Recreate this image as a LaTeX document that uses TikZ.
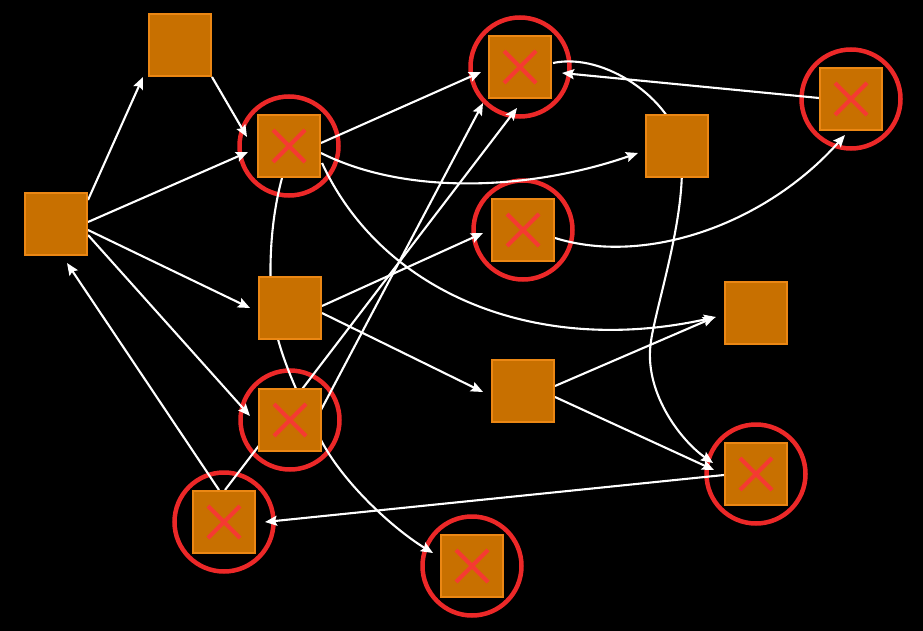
\documentclass[tikz,border=0pt]{standalone}
\usetikzlibrary{arrows.meta,calc}
\definecolor{sqfill}{RGB}{200,112,0}
\definecolor{sqedge}{RGB}{235,135,20}
\definecolor{ringred}{RGB}{236,40,40}
\definecolor{crossred}{RGB}{245,58,50}
\pgfdeclarelayer{back}
\pgfdeclarelayer{mid}
\pgfsetlayers{back,mid,main}
\begin{document}
\begin{tikzpicture}[x=1pt,y=-1pt,
  sq/.style={draw=sqedge, fill=sqfill, line width=1.3pt, minimum size=62pt, inner sep=0pt, outer sep=0pt},
  edge/.style={draw=white, line width=2.1pt, -{Stealth[length=12pt,width=10pt,inset=2pt]}},
  ring/.style={draw=ringred, line width=4.5pt},
  xmk/.style={draw=crossred, line width=4pt}]
% nodes
\node[sq] (A) at (56,224) {};
\node[sq] (B) at (180,45) {};
\node[sq] (C) at (289,146) {};
\node[sq] (D) at (290,308) {};
\node[sq] (E) at (290,420) {};
\node[sq] (F) at (224,522) {};
\node[sq] (G) at (520,67) {};
\node[sq] (H) at (677,146) {};
\node[sq] (I) at (851,99) {};
\node[sq] (J) at (523,230) {};
\node[sq] (K) at (756,313) {};
\node[sq] (L) at (523,391) {};
\node[sq] (M) at (756,474) {};
\node[sq] (N) at (472,566) {};
% crosses
\foreach \n in {C,E,F,G,I,J,M,N}{
  \draw[xmk] ($(\n)+(-16,-16)$) -- ($(\n)+(16,16)$);
  \draw[xmk] ($(\n)+(-16,16)$) -- ($(\n)+(16,-16)$);
}
\begin{pgfonlayer}{back}
\fill[black] (0,0) rectangle (923,631);
\foreach \n in {C,E,F,G,I,J,M,N}{
  \draw[ring] (\n) circle[radius=49.5pt];
}
\end{pgfonlayer}
\begin{pgfonlayer}{mid}
\draw[edge] ($(A)+(32,-24)$) -- ($(B)+(-37,32)$);
\draw[edge] ($(B)+(32,32)$) -- ($(C)+(-42,-9)$);
\draw[edge] ($(A)+(32,-2)$) -- ($(C)+(-41,6)$);
\draw[edge] ($(A)+(32,6)$) -- ($(D)+(-40,0)$);
\draw[edge] ($(A)+(32,11)$) -- ($(E)+(-40,-4)$);
\draw[edge] ($(F)+(-5,-32)$) -- ($(A)+(11,39)$);
\draw[edge] ($(F)+(1,-32)$) -- ($(G)+(-3,41)$);
\draw[edge] ($(C)+(32,-3)$) -- ($(G)+(-39,5)$);
\draw[edge] ($(C)+(32,7)$) .. controls +(90,45) and +(-100,35) .. ($(H)+(-39,7)$);
\draw[edge] ($(C)+(33,17)$) .. controls +(60,130) and +(-180,40) .. ($(K)+(-40,4)$);
\draw[edge] ($(C)+(-7,32)$) .. controls +(-10,37) and +(-4,-48) .. ($(D)+(-18,0)$)
   .. controls +(4,42) and +(-22,-42) .. ($(E)+(32,22)$)
   .. controls +(23,43) and +(-38,-23) .. ($(N)+(-39,-13)$);
\draw[edge] ($(D)+(32,-2)$) -- ($(J)+(-40,3)$);
\draw[edge] ($(D)+(32,5)$) -- ($(L)+(-40,1)$);
\draw[edge] ($(E)+(31,-10)$) -- ($(G)+(-37,36)$);
\draw[edge] ($(G)+(33,-4)$) .. controls +(52,-11) and +(-8,-46) .. ($(H)+(3,0)$)
   .. controls +(10,58) and +(6,-40) .. ($(H)+(-26,195)$)
   .. controls +(-8,50) and +(-33,-23) .. ($(M)+(-43,-11)$);
\draw[edge] ($(I)+(-32,-1)$) -- ($(G)+(42,6)$);
\draw[edge] ($(J)+(32,8)$) .. controls +(90,28) and +(-80,90) .. ($(I)+(-6,36)$);
\draw[edge] ($(L)+(32,-5)$) -- ($(K)+(-41,4)$);
\draw[edge] ($(L)+(32,6)$) -- ($(M)+(-42,-4)$);
\draw[edge] ($(M)+(-32,1)$) -- ($(F)+(41,0)$);
\end{pgfonlayer}
\end{tikzpicture}
\end{document}
